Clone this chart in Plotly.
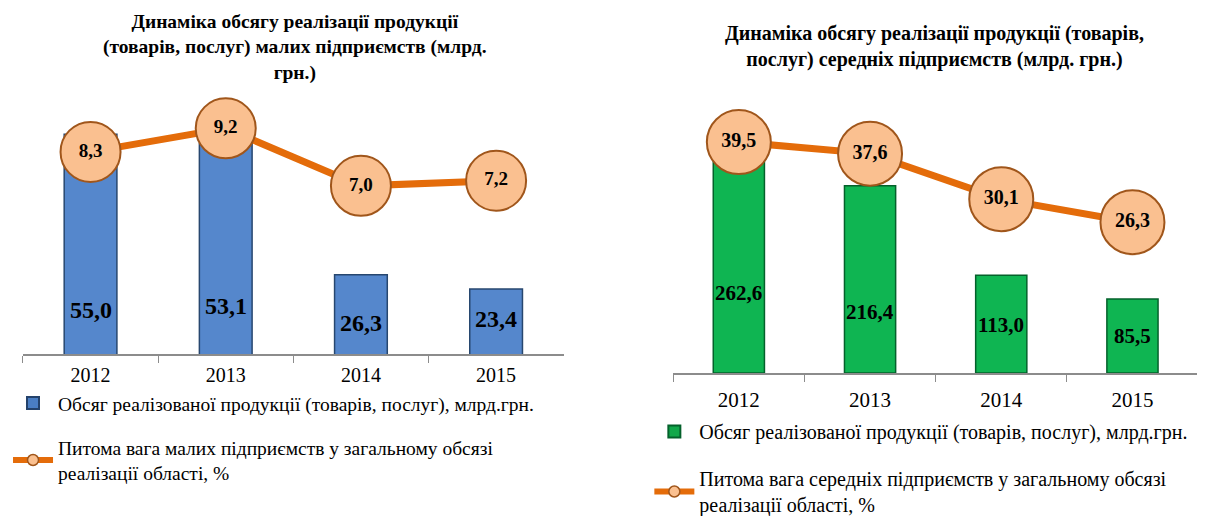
import plotly.graph_objects as go

years = ["2012", "2013", "2014", "2015"]
small_volume = [55.0, 53.1, 26.3, 23.4]
small_share = [8.3, 9.2, 7.0, 7.2]
medium_volume = [262.6, 216.4, 113.0, 85.5]
medium_share = [39.5, 37.6, 30.1, 26.3]

title_small = "Динаміка обсягу реалізації продукції<br>(товарів, послуг) малих підприємств (млрд.<br>грн.)"
title_medium = "Динаміка обсягу реалізації продукції (товарів,<br>послуг) середніх підприємств (млрд. грн.)"
leg_bar = "Обсяг реалізованої продукції (товарів, послуг), млрд.грн."
leg_small_line = "Питома вага малих підприємств у загальному обсязі<br>реалізації області, %"
leg_medium_line = "Питома вага середніх підприємств у загальному обсязі<br>реалізації області, %"

# label pixel offsets above baseline (style only)
small_label_shift = [44, 48, 31, 35]
medium_label_shift = [80, 61, 48, 37]

SERIF = "Liberation Serif"
W, H = 1205, 516


def fmt(v):
    return f"{v:.1f}".replace(".", ",")


fig = go.Figure()

# ---- left chart ----
fig.add_trace(go.Bar(x=years, y=small_volume, xaxis="x", yaxis="y",
                     marker=dict(color="#5587CC", line=dict(color="#27476F", width=1.5)),
                     showlegend=False, hoverinfo="skip"))
fig.add_trace(go.Scatter(x=years, y=small_share, xaxis="x", yaxis="y2",
                         mode="lines+markers+text", text=[fmt(v) for v in small_share],
                         textposition="middle center",
                         textfont=dict(family=SERIF, size=19, color="black", weight="bold"),
                         line=dict(color="#E46C0A", width=7),
                         marker=dict(size=60, color="#FAC090", line=dict(color="#A0561B", width=2)),
                         cliponaxis=False, showlegend=False))
# legend entries (left)
fig.add_trace(go.Bar(x=[years[0]], y=[None], xaxis="x", yaxis="y", name=leg_bar,
                     marker=dict(color="#4A7EC4", line=dict(color="#24426B", width=2)),
                     legend="legend", legendgroup="a"))
fig.add_trace(go.Scatter(x=[years[0]], y=[None], xaxis="x", yaxis="y2", name=leg_small_line,
                         mode="lines+markers", line=dict(color="#E46C0A", width=6),
                         marker=dict(size=11, color="#FAC090", line=dict(color="#A0561B", width=1.5)),
                         legend="legend", legendgroup="b"))

# ---- right chart ----
fig.add_trace(go.Bar(x=years, y=medium_volume, xaxis="x2", yaxis="y3",
                     marker=dict(color="#0FB552", line=dict(color="#04612B", width=1.5)),
                     showlegend=False, hoverinfo="skip"))
fig.add_trace(go.Scatter(x=years, y=medium_share, xaxis="x2", yaxis="y4",
                         mode="lines+markers+text", text=[fmt(v) for v in medium_share],
                         textposition="middle center",
                         textfont=dict(family=SERIF, size=20, color="black", weight="bold"),
                         line=dict(color="#E46C0A", width=7),
                         marker=dict(size=64, color="#FAC090", line=dict(color="#A0561B", width=2)),
                         cliponaxis=False, showlegend=False))
fig.add_trace(go.Bar(x=[years[0]], y=[None], xaxis="x2", yaxis="y3", name=leg_bar,
                     marker=dict(color="#12A84A", line=dict(color="#04612B", width=2)),
                     legend="legend2", legendgroup="c"))
fig.add_trace(go.Scatter(x=[years[0]], y=[None], xaxis="x2", yaxis="y4", name=leg_medium_line,
                         mode="lines+markers", line=dict(color="#E46C0A", width=6),
                         marker=dict(size=11, color="#FAC090", line=dict(color="#A0561B", width=1.5)),
                         legend="legend2", legendgroup="d"))

annotations = []
for i, (v, s) in enumerate(zip(small_volume, small_label_shift)):
    annotations.append(dict(x=i, y=10, xref="x", yref="y", text=fmt(v), showarrow=False,
                            yshift=s, yanchor="middle",
                            font=dict(family=SERIF, size=24, color="black", weight="bold")))
for i, (v, s) in enumerate(zip(medium_volume, medium_label_shift)):
    annotations.append(dict(x=i, y=0, xref="x2", yref="y3", text=fmt(v), showarrow=False,
                            yshift=s, yanchor="middle",
                            font=dict(family=SERIF, size=21, color="black", weight="bold")))
annotations.append(dict(x=283 / W, y=1 - 1 / H, xref="paper", yref="paper", text=title_small,
                        showarrow=False, xanchor="center", yanchor="top",
                        font=dict(family=SERIF, size=19.5, color="black", weight="bold")))
annotations.append(dict(x=925 / W, y=1 - 12 / H, xref="paper", yref="paper", text=title_medium,
                        showarrow=False, xanchor="center", yanchor="top",
                        font=dict(family=SERIF, size=20, color="black", weight="bold")))

xaxis_common = dict(type="category", categoryorder="array", categoryarray=years,
                    range=[-0.5, len(years) - 0.5], autorange=False,
                    showline=True, linecolor="#8C8C8C", linewidth=1.5,
                    ticks="outside", tickson="boundaries", ticklen=7, tickcolor="#8C8C8C",
                    showgrid=False, zeroline=False, fixedrange=True, tickangle=0)

fig.update_layout(
    width=W, height=H, margin=dict(l=0, r=0, t=0, b=0),
    paper_bgcolor="white", plot_bgcolor="white",
    barmode="overlay", bargap=0.61,
    xaxis=dict(domain=[10 / W, 553 / W], anchor="y", ticklabelstandoff=2,
               tickfont=dict(family=SERIF, size=20, color="black"), **xaxis_common),
    yaxis=dict(domain=[1 - 354 / H, 1 - 100 / H], range=[10, 60.8], visible=False),
    yaxis2=dict(overlaying="y", range=[0.55, 10.06], visible=False),
    xaxis2=dict(domain=[663 / W, 1190 / W], anchor="y3", ticklabelstandoff=7,
                tickfont=dict(family=SERIF, size=21, color="black"), **xaxis_common),
    yaxis3=dict(domain=[1 - 373 / H, 1 - 100 / H], range=[0, 308.5], visible=False),
    yaxis4=dict(overlaying="y3", range=[1.44, 45.47], visible=False),
    legend=dict(x=-5 / W, y=1 - 384 / H, xanchor="left", yanchor="top",
                font=dict(family=SERIF, size=19.5, color="black"), tracegroupgap=16,
                bgcolor="rgba(0,0,0,0)", itemwidth=40),
    legend2=dict(x=639 / W, y=1 - 413 / H, xanchor="left", yanchor="top",
                 font=dict(family=SERIF, size=20, color="black"), tracegroupgap=18,
                 bgcolor="rgba(0,0,0,0)", itemwidth=40),
    annotations=annotations,
)

fig.write_html("out.html")
